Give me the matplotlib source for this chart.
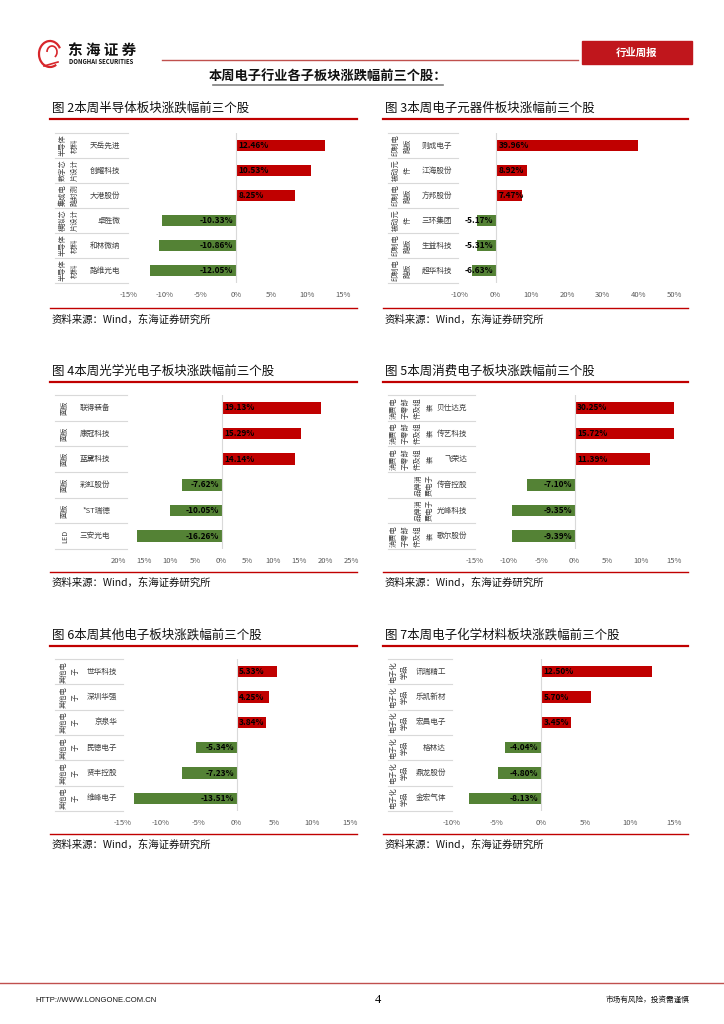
import matplotlib
matplotlib.use('Agg')
import matplotlib.pyplot as plt
from matplotlib.patches import Rectangle, Arc

plt.rcParams['font.family'] = ['Noto Sans CJK SC', 'DejaVu Sans']

W, H = 724, 1024
RED = '#C00000'
GREEN = '#548235'

# ---- 数据 ----
semi_title = '图 2本周半导体板块涨跌幅前三个股'
semi_names = ['天岳先进', '创耀科技', '大港股份', '卓胜微', '和林微纳', '路维光电']
semi_sectors = [['半导体', '材料'], ['数字芯', '片设计'], ['集成电', '路封测'],
                ['模拟芯', '片设计'], ['半导体', '材料'], ['半导体', '材料']]
semi_vals = [12.46, 10.53, 8.25, -10.33, -10.86, -12.05]
semi_ticks = [-15, -10, -5, 0, 5, 10, 15]

comp_title = '图 3本周电子元器件板块涨幅前三个股'
comp_names = ['则成电子', '江海股份', '方邦股份', '三环集团', '生益科技', '超华科技']
comp_sectors = [['印制电', '路板'], ['被动元', '件'], ['印制电', '路板'],
                ['被动元', '件'], ['印制电', '路板'], ['印制电', '路板']]
comp_vals = [39.96, 8.92, 7.47, -5.17, -5.31, -6.63]
comp_ticks = [-10, 0, 10, 20, 30, 40, 50]

opto_title = '图 4本周光学光电子板块涨跌幅前三个股'
opto_names = ['联得装备', '康冠科技', '蓝黛科技', '彩虹股份', '*ST瑞德', '三安光电']
opto_sectors = [['面板'], ['面板'], ['面板'], ['面板'], ['面板'], ['LED']]
opto_vals = [19.13, 15.29, 14.14, -7.62, -10.05, -16.26]
opto_ticks = [-20, -15, -10, -5, 0, 5, 10, 15, 20, 25]

cons_title = '图 5本周消费电子板块涨跌幅前三个股'
cons_names = ['贝仕达克', '传艺科技', '飞荣达', '传音控股', '光峰科技', '歌尔股份']
cons_sectors = [['消费电', '子零部', '件及组', '装'], ['消费电', '子零部', '件及组', '装'],
                ['消费电', '子零部', '件及组', '装'], ['品牌消', '费电子'],
                ['品牌消', '费电子'], ['消费电', '子零部', '件及组', '装']]
cons_vals = [30.25, 15.72, 11.39, -7.10, -9.35, -9.39]
cons_ticks = [-15, -10, -5, 0, 5, 10, 15]

other_title = '图 6本周其他电子板块涨跌幅前三个股'
other_names = ['世华科技', '深圳华强', '京泉华', '民德电子', '贤丰控股', '维峰电子']
other_sectors = [['其他电', '子']] * 6
other_vals = [5.33, 4.25, 3.84, -5.34, -7.23, -13.51]
other_ticks = [-15, -10, -5, 0, 5, 10, 15]

chem_title = '图 7本周电子化学材料板块涨跌幅前三个股'
chem_names = ['讯瑞精工', '乐凯新材', '宏昌电子', '格林达', '鼎龙股份', '金宏气体']
chem_sectors = [['电子化', '学品']] * 6
chem_vals = [12.50, 5.70, 3.45, -4.04, -4.80, -8.13]
chem_ticks = [-10, -5, 0, 5, 10, 15]

source_text = '资料来源：Wind，东海证券研究所'

# ---- 版面 ----
rows = [dict(title=108, line=119, top=133, bot=283, line2=308, src=320),
        dict(title=371, line=382, top=395, bot=549, line2=572, src=583),
        dict(title=635, line=646, top=659, bot=811, line2=834, src=845)]
cols = [dict(tx=52, l0=50, l1=357, tbl=55), dict(tx=385, l0=383, l1=688, tbl=388)]

fig = plt.figure(figsize=(7.24, 10.24), dpi=100)
bg = fig.add_axes([0, 0, 1, 1])
bg.set_xlim(0, W)
bg.set_ylim(H, 0)
bg.axis('off')


def add_ax(x0, x1, y0, y1):
    return fig.add_axes([x0 / W, 1 - y1 / H, (x1 - x0) / W, (y1 - y0) / H])


def panel(r, c, title, names, sectors, vals, ticks, xl, xr, tbl_r, sec_r, name_r,
          abs_ticks=False):
    row, col = rows[r], cols[c]
    bg.text(col['tx'], row['title'], title, fontsize=9, va='center', color='#111111')
    bg.plot([col['l0'], col['l1']], [row['line'], row['line']], color=RED, lw=1.6)
    bg.plot([col['l0'], col['l1']], [row['line2'], row['line2']], color=RED, lw=1.0)
    bg.text(col['tx'], row['src'], source_text, fontsize=7.5, va='center', color='#111111')

    n = len(names)
    top, bot = row['top'], row['bot']
    rh = (bot - top) / n
    for k in range(n + 1):
        bg.plot([col['tbl'], tbl_r], [top + k * rh, top + k * rh], color='#d9d9d9', lw=0.8)
    for i in range(n):
        yc = top + (i + 0.5) * rh
        bg.text(name_r, yc, names[i], ha='right', va='center', fontsize=5.5, color='#404040')
        sc = sectors[i]
        for j, s in enumerate(sc):
            x = sec_r - (len(sc) - 1 - j) * 12
            bg.text(x, yc, s, rotation=90, ha='center', va='center', fontsize=5.2,
                    color='#404040')

    ax = add_ax(xl, xr, top, bot)
    ax.set_xlim(ticks[0], ticks[-1])
    ax.set_ylim(n - 0.5, -0.5)
    colors = [RED if v > 0 else GREEN for v in vals]
    ax.barh(range(n), vals, height=0.45, color=colors)
    ax.axvline(0, color='#d9d9d9', lw=0.8)
    for i, v in enumerate(vals):
        if v > 0:
            ax.annotate(f'{v:.2f}%', (0, i), xytext=(2, 0), textcoords='offset points',
                        ha='left', va='center', fontsize=6, fontweight='bold')
        else:
            ax.annotate(f'{v:.2f}%', (0, i), xytext=(-2, 0), textcoords='offset points',
                        ha='right', va='center', fontsize=6, fontweight='bold')
    for s in ax.spines.values():
        s.set_visible(False)
    ax.set_yticks([])
    ax.set_xticks(ticks)
    if abs_ticks:
        ax.set_xticklabels([f'{abs(t)}%' for t in ticks])
    else:
        ax.set_xticklabels([f'{t}%' for t in ticks])
    ax.tick_params(axis='x', length=0, labelsize=5.5, colors='#595959', pad=6)
    ax.set_facecolor('none')


panel(0, 0, semi_title, semi_names, semi_sectors, semi_vals, semi_ticks,
      129, 343, 128, 75, 120)
panel(0, 1, comp_title, comp_names, comp_sectors, comp_vals, comp_ticks,
      460, 674, 458, 408, 452)
panel(1, 0, opto_title, opto_names, opto_sectors, opto_vals, opto_ticks,
      118, 351, 127, 65, 110, abs_ticks=True)
panel(1, 1, cons_title, cons_names, cons_sectors, cons_vals, cons_ticks,
      475, 674, 475, 430, 467)
panel(2, 0, other_title, other_names, other_sectors, other_vals, other_ticks,
      123, 350, 123, 76, 117)
panel(2, 1, chem_title, chem_names, chem_sectors, chem_vals, chem_ticks,
      452, 674, 452, 405, 446)

# ---- 页眉 ----
bg.add_patch(Arc((50, 54), 22, 26, theta1=60, theta2=330, color='#D7262B', lw=1.6))
bg.add_patch(Arc((52, 52), 10, 12, theta1=180, theta2=60, color='#D7262B', lw=1.2))
bg.plot([44, 58], [66, 62], color='#D7262B', lw=1.2)
bg.text(68, 50, '东 海 证 券', fontsize=10.5, fontweight='bold', va='center', color='#111111')
bg.text(69, 61.5, 'DONGHAI SECURITIES', fontsize=4.3, fontweight='bold', va='center',
        color='#111111')
bg.plot([162, 578], [60, 60], color='#C0504D', lw=1)
bg.add_patch(Rectangle((582, 41), 110, 23, color='#C0161C'))
bg.text(637, 52.5, '行业周报', fontsize=7.5, fontweight='bold', color='white',
        ha='center', va='center')
bg.text(328, 76, '本周电子行业各子板块涨跌幅前三个股：', fontsize=9.5, fontweight='bold',
        ha='center', va='center', color='#111111')
bg.plot([213, 443], [85, 85], color='#7f7f7f', lw=1.2)

# ---- 页脚 ----
bg.plot([0, W], [983, 983], color='#C0504D', lw=1)
bg.text(35, 1000, 'HTTP://WWW.LONGONE.COM.CN', fontsize=5.5, va='center',
        family='Liberation Sans', color='#111111')
bg.text(378, 1000, '4', fontsize=9, va='center', ha='center', family='Liberation Serif')
bg.text(690, 1000, '市场有风险，投资需谨慎', fontsize=5.5, va='center', ha='right',
        color='#111111')

fig.savefig('out.png', dpi=100)
